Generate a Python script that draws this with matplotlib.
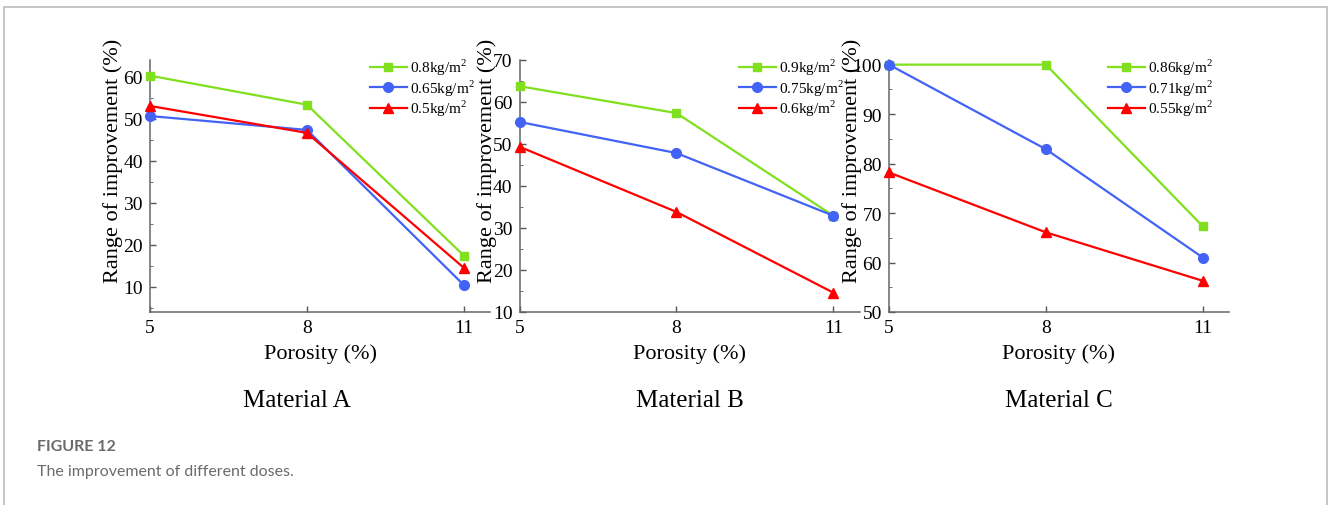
import matplotlib
matplotlib.use('Agg')
from matplotlib import pyplot as plt
from matplotlib.patches import Rectangle
from matplotlib.ticker import AutoMinorLocator

W, H = 1328, 506

# data
porosity = [5, 8, 11]
materials = ['Material A', 'Material B', 'Material C']
doses = [
    ['0.8kg/m$^2$', '0.65kg/m$^2$', '0.5kg/m$^2$'],
    ['0.9kg/m$^2$', '0.75kg/m$^2$', '0.6kg/m$^2$'],
    ['0.86kg/m$^2$', '0.71kg/m$^2$', '0.55kg/m$^2$'],
]
mat_a_high = [60.2, 53.3, 17.4]
mat_a_mid = [50.6, 47.3, 10.4]
mat_a_low = [53.0, 46.6, 14.5]
mat_b_high = [63.7, 57.3, 32.9]
mat_b_mid = [55.2, 47.8, 32.9]
mat_b_low = [49.3, 33.8, 14.6]
mat_c_high = [100, 100, 67.3]
mat_c_mid = [100, 82.9, 61.0]
mat_c_low = [78.2, 66.1, 56.3]
series = [
    [mat_a_high, mat_a_mid, mat_a_low],
    [mat_b_high, mat_b_mid, mat_b_low],
    [mat_c_high, mat_c_mid, mat_c_low],
]
ylims = [(4, 64), (10, 70), (50, 101)]
yticks = [[10, 20, 30, 40, 50, 60], [10, 20, 30, 40, 50, 60, 70], [50, 60, 70, 80, 90, 100]]

colors = ['#80E01E', '#4263F5', '#FF0000']
markers = ['s', 'o', '^']
msizes = [6, 7, 7]

plt.rcParams['font.family'] = ['Liberation Serif', 'DejaVu Serif']
plt.rcParams['mathtext.fontset'] = 'custom'
plt.rcParams['mathtext.rm'] = 'Liberation Serif'

fig = plt.figure(figsize=(W / 100, H / 100), dpi=100)

# frame around the figure box
fig.patches.append(Rectangle((4 / W, -0.05), 1323 / W, 1.05 - 8 / H,
                             transform=fig.transFigure, fill=False,
                             edgecolor='#BBBBBB', linewidth=1.2))

lefts = [150, 519.5, 889]
ylabel_x = [123, 497, 862]
legend_x = [370, 739, 1108]
title_x = [297, 690, 1059]
top, bottom = 60.7, 313
width = 340

for i in range(3):
    ax = fig.add_axes([lefts[i] / W, (H - bottom) / H, width / W, (bottom - top) / H])
    for j in range(3):
        ax.plot(porosity, series[i][j], color=colors[j], marker=markers[j],
                markersize=msizes[j], linewidth=1.6, label=doses[i][j],
                clip_on=False, zorder=3)
    ax.set_xlim(5, 11.5)
    ax.set_ylim(*ylims[i])
    ax.set_xticks(porosity)
    ax.set_yticks(yticks[i])
    ax.yaxis.set_minor_locator(AutoMinorLocator(2))
    ax.tick_params(direction='in', labelsize=14, color='#555555', width=1, length=4, pad=5)
    ax.tick_params(which='minor', direction='in', color='#555555', length=2.5)
    for s in ['top', 'right']:
        ax.spines[s].set_visible(False)
    for s in ['left', 'bottom']:
        ax.spines[s].set_color('#666666')
        ax.spines[s].set_linewidth(1.1)
    ax.patch.set_alpha(0)
    ax.set_xlabel('Porosity (%)', fontsize=16, labelpad=5)
    ax.set_ylabel('Range of improvement (%)', fontsize=16)
    ax.yaxis.set_label_coords((ylabel_x[i] - lefts[i]) / width, (bottom - 161) / (bottom - top))
    ax.legend(loc='upper left', frameon=False,
              bbox_to_anchor=((legend_x[i] - lefts[i]) / width, 1 + 3 / (bottom - top)),
              fontsize=11, handlelength=2.4, handletextpad=0.2,
              labelspacing=0.02, borderaxespad=0, borderpad=0)
    fig.text(title_x[i] / W, 1 - 401 / H, materials[i], fontsize=18,
             ha='center', va='center')

fig.text(37 / W, 1 - 447 / H, 'FIGURE 12', fontsize=11.5, fontweight='bold',
         family='Lato', color='#6B6B6B', va='center')
fig.text(37 / W, 1 - 472 / H, 'The improvement of different doses.', fontsize=11.5,
         family='Lato', color='#6B6B6B', va='center')

fig.savefig('out.png', dpi=100)
